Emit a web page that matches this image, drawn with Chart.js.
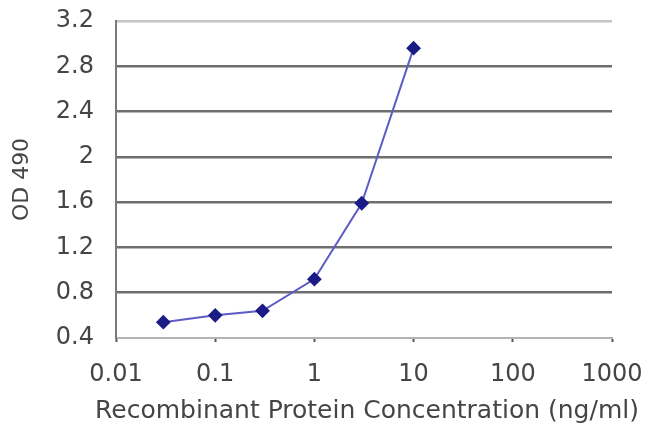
<!DOCTYPE html>
<html>
<head>
<meta charset="utf-8">
<script src="https://cdn.jsdelivr.net/npm/chart.js@4.4.0/dist/chart.umd.min.js"></script>
<style>
  body { margin: 0; background: #fff; }
  canvas { display: block; }
</style>
</head>
<body>
<canvas id="odChart" width="650" height="438"></canvas>
<script>
// concentration (ng/ml) and OD 490 readings
const concentrations = [0.03, 0.1, 0.3, 1, 3, 10];
const odValues = [0.54, 0.6, 0.64, 0.92, 1.59, 2.96];

const xTicks = [0.01, 0.1, 1, 10, 100, 1000];
const xTickLabels = ["0.01", "0.1", "1", "10", "100", "1000"];
const yTicks = [0.4, 0.8, 1.2, 1.6, 2.0, 2.4, 2.8, 3.2];
const yTickLabels = ["0.4", "0.8", "1.2", "1.6", "2", "2.4", "2.8", "3.2"];

const xTitle = "Recombinant Protein Concentration (ng/ml)";
const yTitle = "OD 490";

const textColor = "#454545";
const fontName = "'DejaVu Sans', sans-serif";

// the axis title would get squeezed to the plot width, so draw it here
const xTitlePlugin = {
  id: "xTitle",
  afterDraw(chart) {
    const c = chart.ctx;
    const area = chart.chartArea;
    c.save();
    c.font = "25px " + fontName;
    c.fillStyle = textColor;
    c.textAlign = "center";
    c.textBaseline = "middle";
    c.fillText(xTitle, (area.left + area.right) / 2 + 3, 411);
    c.restore();
  }
};

const ctx = document.getElementById("odChart");

new Chart(ctx, {
  type: "line",
  data: {
    datasets: [{
      data: concentrations.map((c, i) => ({ x: c, y: odValues[i] })),
      borderColor: "#5c5cc4",
      borderWidth: 2,
      backgroundColor: "#1c1c86",
      pointBackgroundColor: "#1c1c86",
      pointBorderColor: "#1c1c86",
      pointStyle: "rectRot",
      pointRadius: 6,
      tension: 0,
      fill: false
    }]
  },
  plugins: [xTitlePlugin],
  options: {
    responsive: false,
    animation: false,
    layout: { padding: { top: 21, right: 38, bottom: 0, left: 0 } },
    plugins: {
      legend: { display: false },
      tooltip: { enabled: false }
    },
    scales: {
      x: {
        type: "logarithmic",
        min: 0.01,
        max: 1000,
        afterBuildTicks: (scale) => {
          scale.ticks = xTicks.map(v => ({ value: v }));
        },
        afterFit: (scale) => {
          scale.height = 100;
          scale.paddingLeft = 0;
          scale.paddingRight = 0;
        },
        ticks: {
          autoSkip: false,
          maxRotation: 0,
          padding: 18,
          color: textColor,
          font: { family: fontName, size: 24 },
          callback: (value, index) => xTickLabels[index]
        },
        grid: {
          drawOnChartArea: false,
          drawTicks: true,
          tickLength: 4,
          tickWidth: 2,
          tickColor: "#555"
        },
        border: { color: "#b4b4b4", width: 2 },
        title: { display: false }
      },
      y: {
        min: 0.4,
        max: 3.2,
        afterBuildTicks: (scale) => {
          scale.ticks = yTicks.map(v => ({ value: v }));
        },
        afterFit: (scale) => {
          scale.width = 116;
          scale.paddingTop = 0;
          scale.paddingBottom = 0;
        },
        ticks: {
          padding: 22,
          color: textColor,
          font: { family: fontName, size: 24 },
          callback: (value, index) => yTickLabels[index]
        },
        grid: {
          drawTicks: false,
          lineWidth: 2.5,
          color: (c) => {
            if (c.index === yTicks.length - 1) return "#c4c4c4";
            if (c.index === 0) return "rgba(0,0,0,0)";
            return "#6e6e6e";
          }
        },
        border: { color: "#7a7a7a", width: 2 },
        title: {
          display: true,
          text: yTitle,
          color: textColor,
          font: { family: fontName, size: 22 },
          padding: { top: 9, bottom: 0 }
        }
      }
    }
  }
});
</script>
</body>
</html>
